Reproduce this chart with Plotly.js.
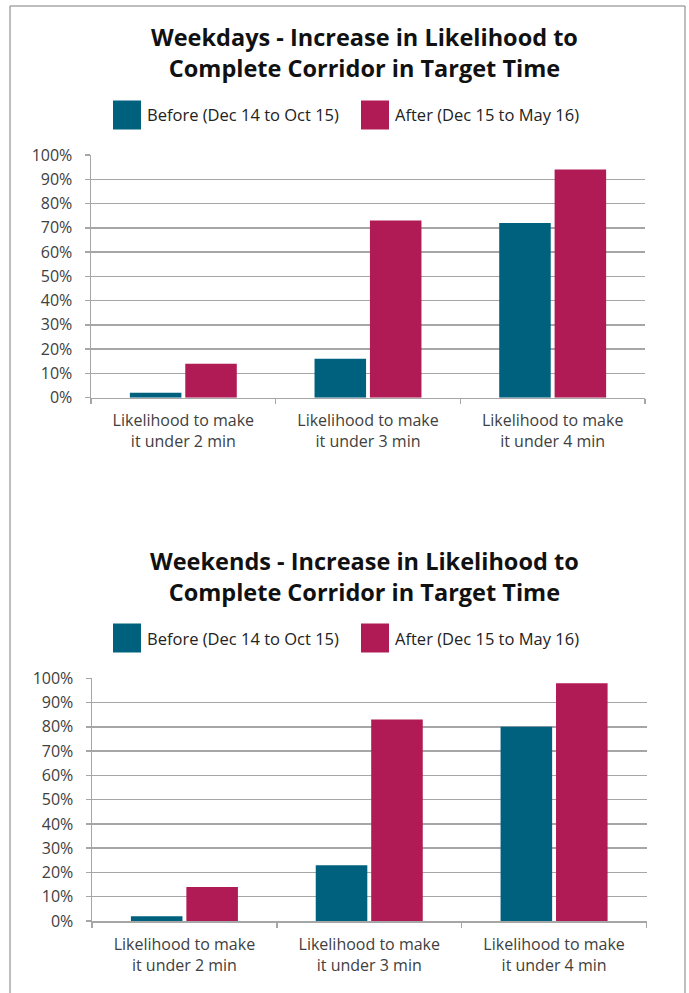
<!DOCTYPE html>
<html>
<head>
<meta charset="utf-8">
<script src="https://cdn.plot.ly/plotly-3.0.1.min.js"></script>
<style>html,body{margin:0;padding:0;background:#fff;}#chart{width:689px;height:993px;}</style>
</head>
<body>
<div id="chart"></div>
<script>
// ---- data ----
const categories = [
  "Likelihood to make<br>it under 2 min",
  "Likelihood to make<br>it under 3 min",
  "Likelihood to make<br>it under 4 min"
];
const seriesNames = ["Before (Dec 14 to Oct 15)", "After (Dec 15 to May 16)"];
const weekdaysBefore = [0.02, 0.16, 0.72];
const weekdaysAfter  = [0.14, 0.73, 0.94];
const weekendsBefore = [0.02, 0.23, 0.80];
const weekendsAfter  = [0.14, 0.83, 0.98];
const yTickVals = [0, 0.1, 0.2, 0.3, 0.4, 0.5, 0.6, 0.7, 0.8, 0.9, 1.0];
const yTickText = ["0%","10%","20%","30%","40%","50%","60%","70%","80%","90%","100%"];
const titles = [
  "Weekdays - Increase in Likelihood to<br>Complete Corridor in Target Time",
  "Weekends - Increase in Likelihood to<br>Complete Corridor in Target Time"
];

// ---- style ----
const W = 689, H = 993;
const C_BEFORE = "#00617F";
const C_AFTER = "#B11B55";
const GRID = "#A6A6A6";
const FONT = "'Open Sans', 'Noto Sans', sans-serif";
const px = x => x / W;
const py = y => 1 - y / H;

const traces = [
  {type:"bar", x:categories, y:weekdaysBefore, name:seriesNames[0], marker:{color:C_BEFORE}, xaxis:"x", yaxis:"y", hoverinfo:"y"},
  {type:"bar", x:categories, y:weekdaysAfter,  name:seriesNames[1], marker:{color:C_AFTER},  xaxis:"x", yaxis:"y", hoverinfo:"y"},
  {type:"bar", x:categories, y:weekendsBefore, name:seriesNames[0], marker:{color:C_BEFORE}, xaxis:"x2", yaxis:"y2", hoverinfo:"y"},
  {type:"bar", x:categories, y:weekendsAfter,  name:seriesNames[1], marker:{color:C_AFTER},  xaxis:"x2", yaxis:"y2", hoverinfo:"y"}
];

function xAxis(domain, anchor){
  return {
    domain: domain, anchor: anchor, type:"category",
    showline:true, linecolor:GRID, linewidth:1.5,
    ticks:"outside", tickson:"boundaries", ticklen:5, tickcolor:GRID, tickwidth:1.5,
    ticklabelstandoff: 8,
    tickfont:{family:FONT, size:16, color:"#404040"},
    showgrid:false, zeroline:false, fixedrange:true
  };
}
function yAxis(domain, anchor){
  return {
    domain: domain, anchor: anchor, range:[0,1],
    tickvals: yTickVals, ticktext: yTickText,
    showline:true, linecolor:GRID, linewidth:1.5,
    ticks:"outside", ticklen:5, tickcolor:GRID, tickwidth:1.5,
    ticklabelstandoff: 9,
    tickfont:{family:FONT, size:16, color:"#404040"},
    showgrid:true, gridcolor:GRID, gridwidth:1.5, zeroline:false, fixedrange:true
  };
}

const shapes = [
  {type:"rect", xref:"paper", yref:"paper", x0:px(10), x1:px(685), y0:py(1005), y1:py(6),
   line:{color:"#7F7F7F", width:1}, fillcolor:"rgba(0,0,0,0)", layer:"below"}
];
const annotations = [];

function addHeader(titleY, legendY, idx){
  annotations.push({xref:"paper", yref:"paper", x:px(364), y:py(titleY), xanchor:"center", yanchor:"middle",
    text:"<b>"+titles[idx]+"</b>", showarrow:false, align:"center",
    font:{family:FONT, size:23.5, color:"#111111"}});
  const items = [[113, C_BEFORE, seriesNames[0]], [361, C_AFTER, seriesNames[1]]];
  items.forEach(([x, col, txt]) => {
    shapes.push({type:"rect", xref:"paper", yref:"paper", x0:px(x), x1:px(x+28), y0:py(legendY+14.5), y1:py(legendY-14.5),
      fillcolor:col, line:{width:0}});
    annotations.push({xref:"paper", yref:"paper", x:px(x+32), y:py(legendY), xanchor:"left", yanchor:"middle",
      text:txt, showarrow:false, font:{family:FONT, size:16.5, color:"#222222"}});
  });
}
addHeader(53, 115, 0);
addHeader(576, 638, 1);

const layout = {
  width:W, height:H,
  margin:{l:0, r:0, t:0, b:0, autoexpand:false},
  paper_bgcolor:"#ffffff", plot_bgcolor:"#ffffff",
  showlegend:false,
  barmode:"group", bargap:0.40, bargroupgap:0.07,
  font:{family:FONT},
  xaxis: xAxis([px(91), px(645)], "y"),
  yaxis: yAxis([py(397.7), py(155)], "x"),
  xaxis2: xAxis([px(92), px(646.5)], "y2"),
  yaxis2: yAxis([py(921), py(678.3)], "x2"),
  shapes: shapes,
  annotations: annotations
};

Plotly.newPlot("chart", traces, layout, {staticPlot:true, displayModeBar:false});
</script>
</body>
</html>
